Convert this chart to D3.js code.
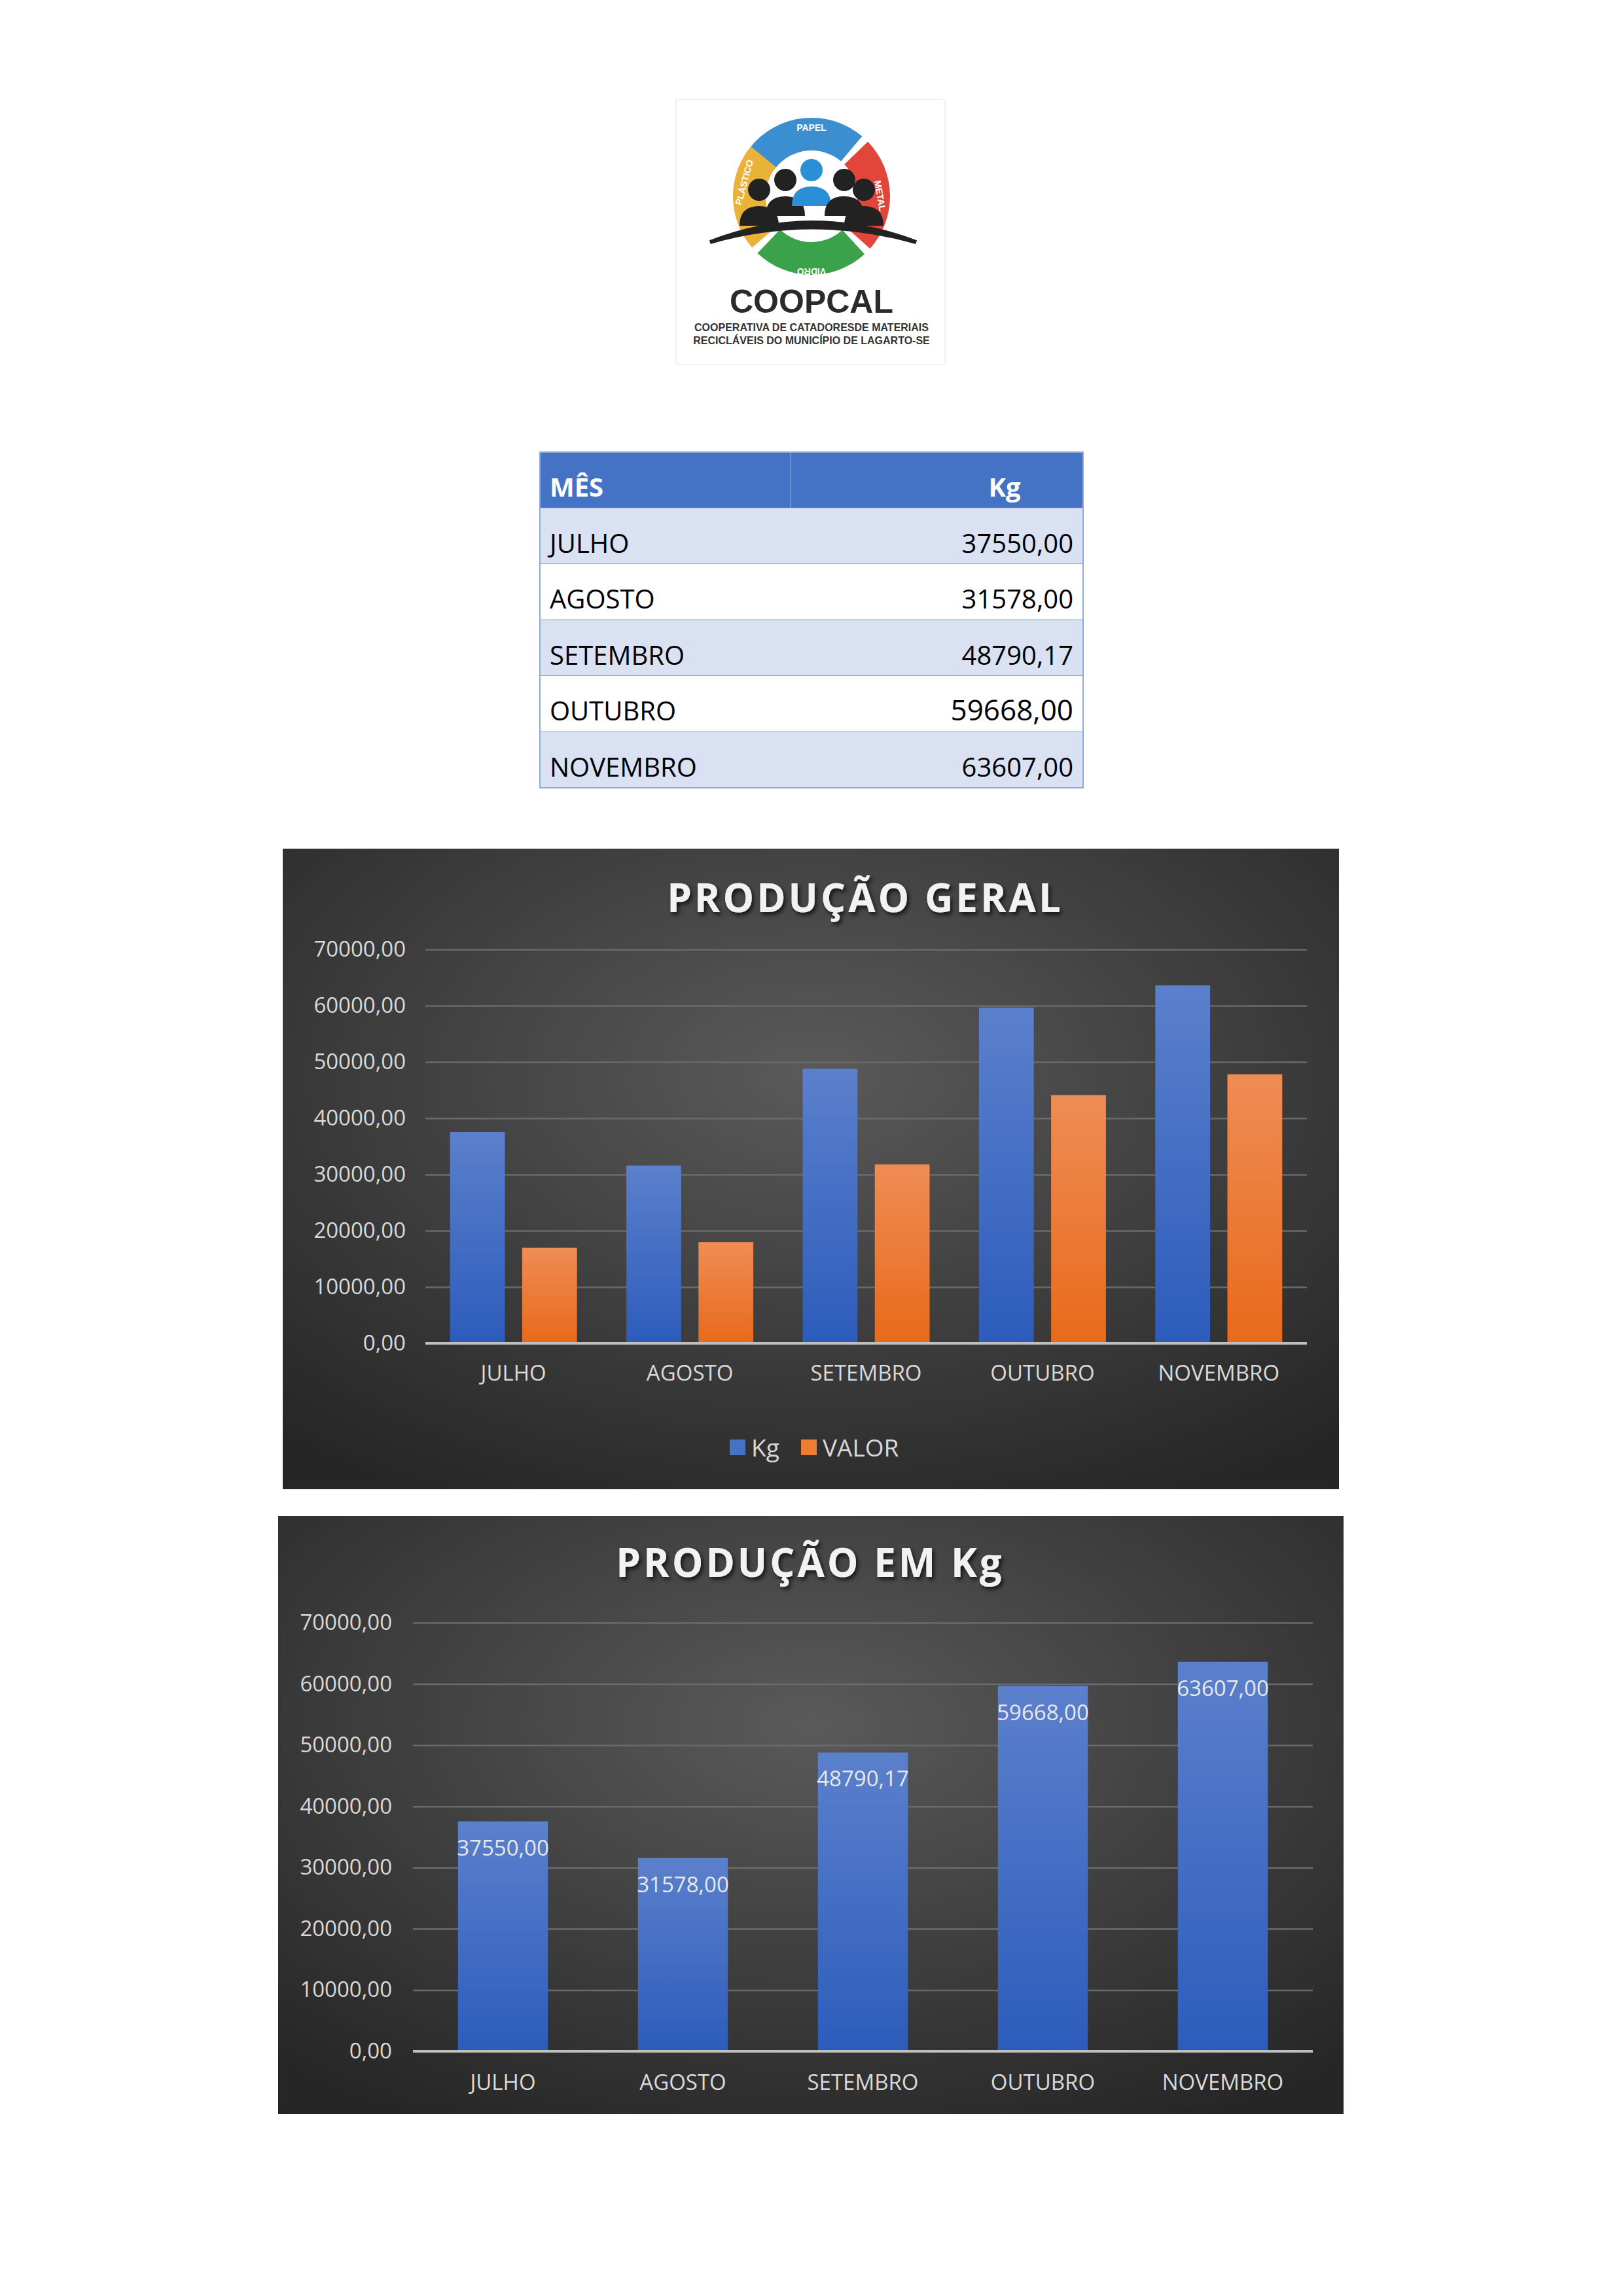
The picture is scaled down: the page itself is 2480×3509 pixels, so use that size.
<!DOCTYPE html>
<html>
<head>
<meta charset="utf-8">
<script src="https://cdn.jsdelivr.net/npm/d3@7"></script>
<style>
  body { margin: 0; background: #fff; }
  svg { display: block; }
</style>
</head>
<body>
<svg id="page" width="2480" height="3509"></svg>
<script>
const months = ["JULHO", "AGOSTO", "SETEMBRO", "OUTUBRO", "NOVEMBRO"];
const kg = [37550.00, 31578.00, 48790.17, 59668.00, 63607.00];
const valor = [17000, 18000, 31800, 44100, 47800];
const yTicks = [0, 10000, 20000, 30000, 40000, 50000, 60000, 70000];

const FONT = "'Liberation Sans Narrow', 'Open Sans', 'Noto Sans', sans-serif";
const fmt = v => d3.format(".2f")(v).replace(".", ",");

const svg = d3.select("#page");
const defs = svg.append("defs");

// gradients
const bg = defs.append("radialGradient").attr("id", "bg").attr("cx", "50%").attr("cy", "35%").attr("r", "75%");
bg.append("stop").attr("offset", "0%").attr("stop-color", "#5a5a5a");
bg.append("stop").attr("offset", "100%").attr("stop-color", "#262626");
const gb = defs.append("linearGradient").attr("id", "blue").attr("x1", 0).attr("y1", 0).attr("x2", 0).attr("y2", 1);
gb.append("stop").attr("offset", "0%").attr("stop-color", "#5b80cc");
gb.append("stop").attr("offset", "100%").attr("stop-color", "#2c5cbb");
const go = defs.append("linearGradient").attr("id", "orange").attr("x1", 0).attr("y1", 0).attr("x2", 0).attr("y2", 1);
go.append("stop").attr("offset", "0%").attr("stop-color", "#ef8c55");
go.append("stop").attr("offset", "100%").attr("stop-color", "#e86a1a");
const sh = defs.append("filter").attr("id", "shadow");
sh.append("feDropShadow").attr("dx", 3).attr("dy", 4).attr("stdDeviation", 3).attr("flood-color", "#000").attr("flood-opacity", 0.7);

// ---- logo (simplified) ----
const logo = svg.append("g");
logo.append("rect").attr("x", 1033).attr("y", 152).attr("width", 411).attr("height", 405).attr("fill", "#fff").attr("stroke", "#e6e6e6");
const lc = { x: 1240, y: 300 }, arcR = d3.arc().innerRadius(70).outerRadius(120);
const arcCols = [["#3b8fd0", -0.9, 0.7], ["#e2463a", 0.8, 2.3], ["#3aa24a", 2.4, 3.9], ["#e9b33a", 4.0, 5.4]];
arcCols.forEach(([c, a0, a1]) => logo.append("path").attr("transform", `translate(${lc.x},${lc.y})`)
  .attr("d", arcR({ startAngle: a0, endAngle: a1 })).attr("fill", c));
[["PAPEL", 1240, 200, 0], ["METAL", 1340, 300, 80], ["VIDRO", 1240, 410, 180], ["PLÁSTICO", 1142, 280, -75]].forEach(([t, x, y, r]) =>
  logo.append("text").attr("transform", `translate(${x},${y}) rotate(${r})`).attr("text-anchor", "middle")
    .attr("font-family", "Liberation Sans").attr("font-weight", "bold").attr("font-size", 14).attr("fill", "#fff").text(t));
[[1160, 315, "#222"], [1200, 300, "#222"], [1240, 285, "#2a8fd6"], [1290, 300, "#222"], [1320, 315, "#222"]].forEach(([x, y, c]) => {
  logo.append("circle").attr("cx", x).attr("cy", y - 25).attr("r", 17).attr("fill", c);
  logo.append("path").attr("d", `M${x - 30},${y + 30} Q${x - 30},${y} ${x},${y} Q${x + 30},${y} ${x + 30},${y + 30} Z`).attr("fill", c);
});
logo.append("path").attr("d", "M1085,370 Q1240,310 1400,370 Q1240,325 1085,370 Z").attr("fill", "#222").attr("stroke", "#222").attr("stroke-width", 6);
logo.append("text").attr("x", 1240).attr("y", 478).attr("text-anchor", "middle").attr("font-family", "Liberation Sans").attr("font-weight", "bold")
  .attr("font-size", 50).attr("fill", "#2b2b2b").text("COOPCAL");
logo.append("text").attr("x", 1240).attr("y", 506).attr("text-anchor", "middle").attr("font-family", "Liberation Sans").attr("font-weight", "bold")
  .attr("font-size", 16).attr("fill", "#333").text("COOPERATIVA DE CATADORESDE MATERIAIS");
logo.append("text").attr("x", 1240).attr("y", 526).attr("text-anchor", "middle").attr("font-family", "Liberation Sans").attr("font-weight", "bold")
  .attr("font-size", 16).attr("fill", "#333").text("RECICLÁVEIS DO MUNICÍPIO DE LAGARTO-SE");

// ---- table ----
const tb = { x: 825, y: 691, w: 830, rowH: 85.5, split: 1208 };
const tg = svg.append("g").attr("font-family", FONT);
tg.append("rect").attr("x", tb.x).attr("y", tb.y).attr("width", tb.w).attr("height", tb.rowH).attr("fill", "#4472c4");
tg.append("line").attr("x1", tb.split).attr("x2", tb.split).attr("y1", tb.y).attr("y2", tb.y + tb.rowH).attr("stroke", "#6d8fd0").attr("stroke-width", 2);
tg.append("text").attr("x", tb.x + 15).attr("y", tb.y + 68).attr("font-size", 40).attr("font-weight", "bold").attr("fill", "#fff").text("MÊS");
tg.append("text").attr("x", tb.x + tb.w - 120).attr("y", tb.y + 68).attr("text-anchor", "middle").attr("font-size", 40).attr("font-weight", "bold").attr("fill", "#fff").text("Kg");
months.forEach((m, i) => {
  const y = tb.y + tb.rowH * (i + 1);
  tg.append("rect").attr("x", tb.x).attr("y", y).attr("width", tb.w).attr("height", tb.rowH).attr("fill", i % 2 === 0 ? "#d9e1f2" : "#fff");
  tg.append("line").attr("x1", tb.x).attr("x2", tb.x + tb.w).attr("y1", y + tb.rowH).attr("y2", y + tb.rowH).attr("stroke", "#8ea9db").attr("stroke-width", 2);
  tg.append("text").attr("x", tb.x + 15).attr("y", y + 68).attr("font-size", 40).attr("fill", "#000").text(m);
  tg.append("text").attr("x", tb.x + tb.w - 15).attr("y", y + 68).attr("text-anchor", "end").attr("font-size", i === 3 ? 44 : 40).attr("fill", "#000").text(fmt(kg[i]));
});
tg.append("rect").attr("x", tb.x).attr("y", tb.y).attr("width", tb.w).attr("height", tb.rowH * 6).attr("fill", "none").attr("stroke", "#8ea9db").attr("stroke-width", 2);

// ---- chart helper ----
function chart(o) {
  const g = svg.append("g").attr("font-family", FONT);
  g.append("rect").attr("x", o.x).attr("y", o.y).attr("width", o.w).attr("height", o.h).attr("fill", "url(#bg)");
  g.append("text").attr("x", o.titleX).attr("y", o.titleY).attr("text-anchor", "middle").attr("font-size", 60).attr("font-weight", "bold")
    .attr("letter-spacing", 4).attr("fill", "#f2f2f2").attr("filter", "url(#shadow)").text(o.title);
  const x = d3.scaleBand().domain(months).range([o.px0, o.px1]).paddingInner(o.padI).paddingOuter(o.padO);
  const y = d3.scaleLinear().domain([0, 70000]).range([o.py0, o.py1]);
  const ya = g.append("g").attr("transform", `translate(${o.px0},0)`)
    .call(d3.axisLeft(y).tickValues(yTicks).tickSize(-(o.px1 - o.px0)).tickPadding(o.labPad).tickFormat(fmt));
  ya.select(".domain").remove();
  ya.selectAll("line").attr("stroke", "#6a6a6a").attr("stroke-width", 2.5);
  ya.selectAll("text").attr("font-size", 33).attr("fill", "#d9d9d9").attr("font-family", FONT);
  const series = o.series;
  const inner = d3.scaleBand().domain(d3.range(series.length)).range([0, x.bandwidth()]).paddingInner(o.gap);
  series.forEach((s, k) => {
    g.append("g").selectAll("rect").data(s.values).join("rect")
      .attr("x", (d, i) => x(months[i]) + inner(k)).attr("width", inner.bandwidth())
      .attr("y", d => y(d)).attr("height", d => y(0) - y(d)).attr("fill", s.fill);
    if (o.labels) g.append("g").selectAll("text").data(s.values).join("text")
      .attr("x", (d, i) => x(months[i]) + inner(k) + inner.bandwidth() / 2).attr("y", d => y(d) + 52)
      .attr("text-anchor", "middle").attr("font-size", 33).attr("fill", "#e8e8e8").text(fmt);
  });
  g.append("line").attr("x1", o.px0).attr("x2", o.px1).attr("y1", y(0)).attr("y2", y(0)).attr("stroke", "#bfbfbf").attr("stroke-width", 4);
  const xa = g.append("g").attr("transform", `translate(0,${y(0)})`).call(d3.axisBottom(x).tickSize(0).tickPadding(o.xPad));
  xa.select(".domain").remove();
  xa.selectAll("text").attr("font-size", 33).attr("fill", "#d9d9d9").attr("font-family", FONT);
  return g;
}

const c1 = chart({
  x: 432, y: 1297, w: 1614, h: 979, title: "PRODUÇÃO GERAL", titleX: 1322, titleY: 1394,
  px0: 650, px1: 1997, py0: 2053, py1: 1451, padI: 0.28, padO: 0.14, gap: 0.24, labPad: 30, xPad: 34, labels: false,
  series: [{ values: kg, fill: "url(#blue)" }, { values: valor, fill: "url(#orange)" }]
});
const lg = c1.append("g").attr("font-size", 37).attr("fill", "#d9d9d9");
lg.append("rect").attr("x", 1115).attr("y", 2200).attr("width", 24).attr("height", 24).attr("fill", "#4472c4");
lg.append("text").attr("x", 1148).attr("y", 2226).text("Kg");
lg.append("rect").attr("x", 1224).attr("y", 2200).attr("width", 24).attr("height", 24).attr("fill", "#ed7d31");
lg.append("text").attr("x", 1257).attr("y", 2226).text("VALOR");

chart({
  x: 425, y: 2317, w: 1628, h: 914, title: "PRODUÇÃO EM Kg", titleX: 1238, titleY: 2410,
  px0: 631, px1: 2006, py0: 3135, py1: 2480, padI: 0.5, padO: 0.25, gap: 0, labPad: 32, xPad: 36, labels: true,
  series: [{ values: kg, fill: "url(#blue)" }]
});
</script>
</body>
</html>
